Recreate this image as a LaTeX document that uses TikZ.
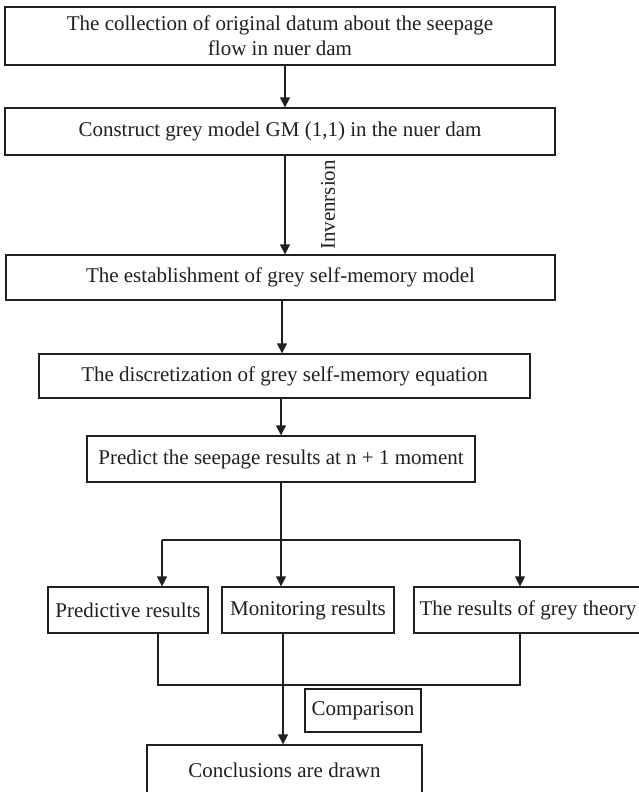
\documentclass[tikz,border=0pt]{standalone}
\usepackage{fontspec}
\setmainfont{Liberation Serif}
\usetikzlibrary{arrows.meta}
\definecolor{linec}{RGB}{35,31,32}
\definecolor{txt}{RGB}{35,31,32}
\begin{document}
\begin{tikzpicture}[x=1pt,y=-1pt,
  box/.style={draw=linec, line width=1.3pt, inner sep=0pt, font=\fontsize{21}{25}\selectfont, text=txt, align=center},
  lbl/.style={inner sep=0pt, font=\fontsize{21}{25}\selectfont, text=txt},
  arr/.style={draw=linec, line width=1.3pt, -{Triangle[length=10pt,width=10pt]}},
  ln/.style={draw=linec, line width=1.3pt}]
\useasboundingbox[fill=white] (0,0) rectangle (638,792);

\node[box, minimum width=550pt, minimum height=58pt] (b1) at (280,36)
  {The collection of original datum about the seepage\\flow in nuer dam};
\node[box, minimum width=550pt, minimum height=47pt] (b2) at (280,131.5)
  {Construct grey model GM (1,1) in the nuer dam};
\node[box, minimum width=549pt, minimum height=45pt] (b3) at (280.5,277.5)
  {The establishment of grey self-memory model};
\node[box, minimum width=491pt, minimum height=44pt] (b4) at (284.5,376)
  {The discretization of grey self-memory equation};
\node[box, minimum width=388pt, minimum height=46pt] (b5) at (281,459)
  {Predict the seepage results at n + 1 moment};
\node[box, minimum width=160pt, minimum height=46pt] (pred) at (128,610)
  {Predictive results};
\node[box, minimum width=172pt, minimum height=46pt] (mon) at (308,610)
  {Monitoring results};
\node[box, minimum width=228pt, minimum height=46pt] (grey) at (528,610)
  {The results of grey theory};
\node[box, minimum width=116pt, minimum height=43pt] (comp) at (363,710.5)
  {Comparison};
\node[box, minimum width=275pt, minimum height=50pt] (concl) at (284.5,770)
  {Conclusions are drawn};
\node[lbl, rotate=90] (inv) at (328,205) {Invenrsion};

\coordinate (x285) at (285,0);
\coordinate (x282) at (282,0);
\coordinate (x281) at (281,0);
\coordinate (x283) at (283,0);
\coordinate (x162) at (162,0);
\coordinate (x158) at (158,0);
\coordinate (x520) at (520,0);
\coordinate (split) at (281,540);
\coordinate (join) at (0,685);

\draw[arr] (b1.south -| x285) -- (b2.north -| x285);
\draw[arr] (b2.south -| x285) -- (b3.north -| x285);
\draw[arr] (b3.south -| x282) -- (b4.north -| x282);
\draw[arr] (b4.south -| x281) -- (b5.north -| x281);
\draw[ln] (b5.south -| split) -- (split);
\draw[ln] (split -| x162) -- (split -| x520);
\draw[arr] (split -| x162) -- (pred.north -| x162);
\draw[arr] (split) -- (mon.north -| split);
\draw[arr] (split -| x520) -- (grey.north -| x520);
\draw[ln] (pred.south -| x158) -- (join -| x158) -- (join -| x520) -- (grey.south -| x520);
\draw[arr] (mon.south -| x283) -- (concl.north -| x283);
\end{tikzpicture}
\end{document}
